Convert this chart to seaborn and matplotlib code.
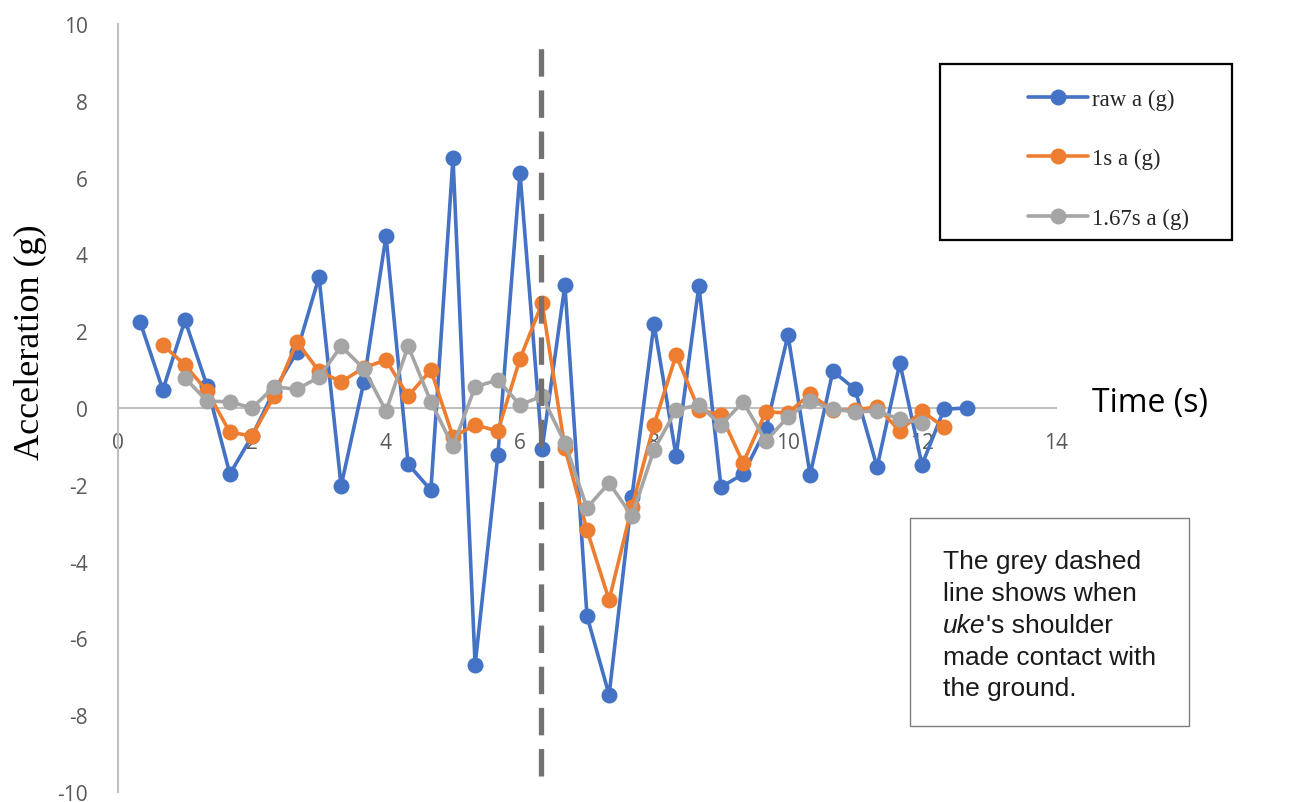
import numpy as np
import pandas as pd
import matplotlib
matplotlib.use("Agg")
import matplotlib.pyplot as plt
from matplotlib.lines import Line2D
from matplotlib.patches import Rectangle
import seaborn as sns

# ---------------- data ----------------
raw_time = [round(k / 3, 2) for k in range(1, 39)]
raw_a = [2.24, 0.47, 2.29, 0.57, -1.72, -0.73, 0.45, 1.46, 3.41, -2.03,
         0.68, 4.48, -1.46, -2.14, 6.51, -6.69, -1.22, 6.12, -1.07, 3.20,
         -5.42, -7.47, -2.32, 2.19, -1.25, 3.18, -2.06, -1.72, -0.55, 1.90,
         -1.74, 0.96, 0.49, -1.54, 1.17, -1.48, -0.03, 0.00]

s1_time = [round(k / 3, 2) for k in range(2, 38)]
s1_a = [1.64, 1.12, 0.44, -0.63, -0.73, 0.31, 1.72, 0.96, 0.68, 1.05,
        1.25, 0.31, 0.99, -0.75, -0.44, -0.60, 1.28, 2.73, -1.04, -3.18,
        -5.00, -2.58, -0.44, 1.38, -0.05, -0.18, -1.43, -0.10, -0.13, 0.36,
        -0.06, -0.05, 0.03, -0.60, -0.08, -0.50]

s167_time = [round(k / 3, 2) for k in range(3, 37)]
s167_a = [0.78, 0.18, 0.16, 0.00, 0.55, 0.49, 0.80, 1.61, 1.02, -0.08,
          1.61, 0.16, -1.00, 0.55, 0.73, 0.08, 0.31, -0.91, -2.60, -1.95,
          -2.81, -1.09, -0.05, 0.08, -0.44, 0.16, -0.86, -0.23, 0.18, -0.03,
          -0.10, -0.08, -0.29, -0.39]

series_names = ["raw a (g)", "1s a (g)", "1.67s a (g)"]
contact_time = 6.31

x_ticks = [0, 2, 4, 6, 8, 10, 12, 14]
y_ticks = [-10, -8, -6, -4, -2, 0, 2, 4, 6, 8, 10]

note_lines = ["The grey dashed", "line shows when", "'s shoulder",
              "made contact with", "the ground."]

# ---------------- build frame ----------------
df = pd.concat([
    pd.DataFrame({"time": raw_time, "acc": raw_a, "series": series_names[0]}),
    pd.DataFrame({"time": s1_time, "acc": s1_a, "series": series_names[1]}),
    pd.DataFrame({"time": s167_time, "acc": s167_a, "series": series_names[2]}),
], ignore_index=True)

colors = ["#4472C4", "#ED7D31", "#A5A5A5"]
palette = dict(zip(series_names, colors))

sns.set_style("white")
plt.rcParams["font.family"] = ["Open Sans", "DejaVu Sans"]

W, H = 1289, 803
fig = plt.figure(figsize=(W / 100, H / 100), dpi=100)
ax = fig.add_axes([118 / W, 1 - 793 / H, (1056 - 118) / W, (793 - 25) / H])

sns.lineplot(data=df, x="time", y="acc", hue="series", hue_order=series_names,
             palette=palette, marker="o", markersize=11.5, markeredgewidth=0,
             linewidth=2.6, sort=False, legend=False, ax=ax, zorder=3)

ax.axvline(contact_time, ymin=(793 - 777) / 768, ymax=(793 - 40) / 768,
           color="#767171", linewidth=3.8, dashes=(5.2, 2.6), zorder=4)

ax.set_xlim(0, 14)
ax.set_ylim(-10, 10)
ax.set_xticks(x_ticks)
ax.set_yticks(y_ticks)
ax.set_xticklabels([str(v) for v in x_ticks])
ax.set_yticklabels([str(v) for v in y_ticks])

for s in ["top", "right"]:
    ax.spines[s].set_visible(False)
ax.spines["bottom"].set_position(("data", 0))
for s in ["left", "bottom"]:
    ax.spines[s].set_color("#BFBFBF")
    ax.spines[s].set_linewidth(1.5)

ax.tick_params(axis="both", length=0, labelsize=15, labelcolor="#595959")
ax.tick_params(axis="y", pad=22)
ax.tick_params(axis="x", pad=17)
ax.set_xlabel("")
ax.set_ylabel("")

# axis titles
fig.text(30 / W, 1 - 342 / H, "Acceleration (g)", rotation=90, ha="center",
         va="center", fontsize=26, family=["Liberation Serif"], color="black")
fig.text(1092 / W, 1 - 404 / H, "Time (s)", ha="left", va="center",
         fontsize=23, family=["Open Sans"], color="black")

# legend
fig.add_artist(Rectangle((940 / W, 1 - 241 / H), 292 / W, 176 / H,
                         transform=fig.transFigure, fill=False,
                         edgecolor="black", linewidth=1.6))
handles = [Line2D([], [], color=c, marker="o", markersize=11.5,
                  markeredgewidth=0, linewidth=2.6) for c in colors]
fig.legend(handles, series_names, loc="upper left",
           bbox_to_anchor=(1028 / W, 1 - 90 / H), frameon=False,
           prop={"family": "Liberation Serif", "size": 16.5},
           handlelength=2.6, handletextpad=0.2, labelspacing=1.66,
           borderpad=0, borderaxespad=0)

# note box
fig.add_artist(Rectangle((910 / W, 1 - 727 / H), 279 / W, 208 / H,
                         transform=fig.transFigure, fill=False,
                         edgecolor="#7F7F7F", linewidth=1.0))
baselines = [569, 601, 633, 665, 696]
for i, (line, b) in enumerate(zip(note_lines, baselines)):
    if i == 2:
        t = fig.text(943 / W, 1 - b / H, "uke", ha="left", va="baseline",
                     fontsize=19, style="italic", family=["Liberation Sans"],
                     color="#1A1A1A")
        ax.annotate(line, xy=(1, 0), xycoords=t, ha="left", va="bottom",
                    fontsize=19, family=["Liberation Sans"], color="#1A1A1A",
                    annotation_clip=False)
    else:
        fig.text(943 / W, 1 - b / H, line, ha="left", va="baseline",
                 fontsize=19, family=["Liberation Sans"], color="#1A1A1A")

fig.savefig("out.png", dpi=100)
